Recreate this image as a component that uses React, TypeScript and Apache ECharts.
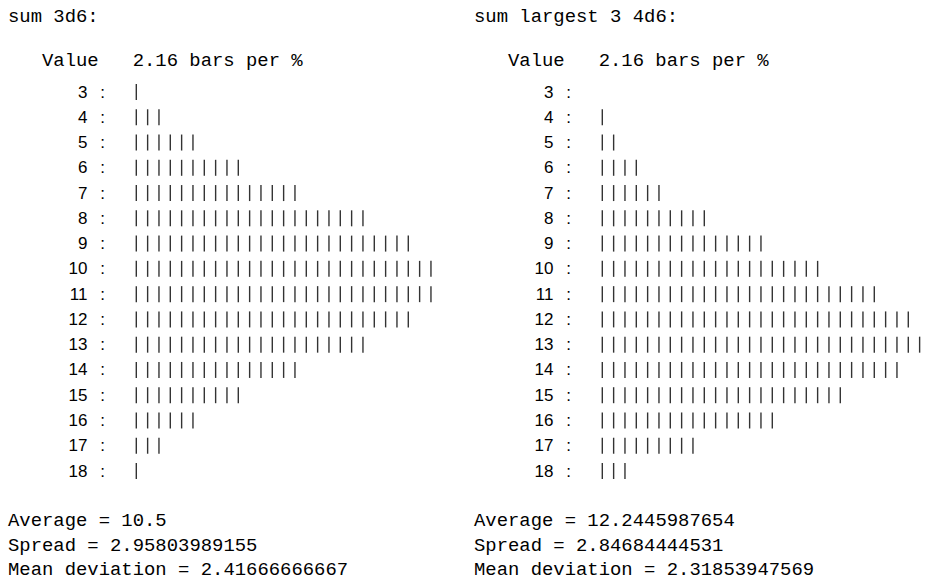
import React, { useEffect, useRef } from "react";
import * as echarts from "echarts";

// ---- data ----
const rowValues = [3, 4, 5, 6, 7, 8, 9, 10, 11, 12, 13, 14, 15, 16, 17, 18];
const sum3d6Bars = [1, 3, 6, 10, 15, 21, 25, 27, 27, 25, 21, 15, 10, 6, 3, 1];
const largest3of4d6Bars = [0, 1, 2, 4, 6, 10, 15, 20, 25, 28, 29, 27, 22, 16, 9, 3];
const panelTitles = ["sum 3d6:", "sum largest 3 4d6:"];
const headerValue = "Value";
const headerScale = "2.16 bars per %";
const statsLeft = ["Average = 10.5", "Spread = 2.95803989155", "Mean deviation = 2.41666666667"];
const statsRight = ["Average = 12.2445987654", "Spread = 2.84684444531", "Mean deviation = 2.31853947569"];

const CH = 11.333; // monospace cell width
const MONO = "'Liberation Mono', 'DejaVu Sans Mono', monospace";
const SANS = "'Liberation Sans', Arial, sans-serif";

function barPoints(counts: number[]) {
  const pts: number[][] = [];
  counts.forEach((c, i) => {
    for (let k = 1; k <= c; k++) pts.push([k, rowValues[i]]);
  });
  return pts;
}

export default function App() {
  const ref = useRef<HTMLDivElement>(null);
  useEffect(() => {
    if (!ref.current) return;
    const chart = echarts.init(ref.current, undefined, { renderer: "svg" });
    const panelOffsets = [0, 466];
    const top = 92;
    const height = 379;
    const gridLeft0 = 136.3 - CH;

    const grids = panelOffsets.map((off) => ({
      left: gridLeft0 + off,
      top,
      height,
      width: CH * 30,
      containLabel: false,
      outerBoundsMode: "none",
    }));

    const xAxes = panelOffsets.map((_, i) => ({
      type: "value",
      gridIndex: i,
      min: 0,
      max: 30,
      show: false,
    }));

    const yAxes: any[] = [];
    panelOffsets.forEach((off, i) => {
      const gl = gridLeft0 + off;
      yAxes.push({
        type: "value",
        gridIndex: i,
        position: "left",
        offset: 0,
        min: 3,
        max: 18,
        interval: 1,
        inverse: true,
        axisLine: { show: false },
        axisTick: { show: false },
        splitLine: { show: false },
        axisLabel: {
          show: true,
          showMinLabel: true,
          showMaxLabel: true,
          margin: gl - (87.5 + off),
          align: "right",
          color: "#000",
          fontFamily: SANS,
          fontSize: 17,
          formatter: (v: number) => String(v),
        },
      });
      yAxes.push({
        type: "value",
        gridIndex: i,
        position: "left",
        offset: 0,
        min: 3,
        max: 18,
        interval: 1,
        inverse: true,
        axisLine: { show: false },
        axisTick: { show: false },
        splitLine: { show: false },
        axisLabel: {
          show: true,
          showMinLabel: true,
          showMaxLabel: true,
          margin: gl - (102.5 + off),
          align: "center",
          color: "#000",
          fontFamily: SANS,
          fontSize: 17,
          formatter: () => ":",
        },
      });
    });

    const series = [sum3d6Bars, largest3of4d6Bars].map((counts, i) => ({
      type: "scatter",
      xAxisIndex: i,
      yAxisIndex: i * 2,
      symbol: "rect",
      symbolSize: [1.4, 16],
      itemStyle: { color: "#000" },
      data: barPoints(counts),
      silent: true,
      clip: false,
    }));

    const textStyle = (fs: number) => ({ fill: "#000", fontFamily: MONO, fontSize: fs, verticalAlign: "middle", align: "left" });
    const graphics: any[] = [];
    panelOffsets.forEach((off, i) => {
      graphics.push({ type: "text", x: 8 + off, y: 17, style: { ...textStyle(18.9), text: panelTitles[i] } });
      graphics.push({ type: "text", x: 8 + 3 * CH + off, y: 61, style: { ...textStyle(18.9), text: headerValue } });
      graphics.push({ type: "text", x: 8 + 11 * CH + off, y: 61, style: { ...textStyle(18.9), text: headerScale } });
      const stats = i === 0 ? statsLeft : statsRight;
      const ys = [521, 545.5, 569.5];
      stats.forEach((s, j) => {
        graphics.push({ type: "text", x: 8 + off, y: ys[j], style: { ...textStyle(18.9), text: s } });
      });
    });

    chart.setOption({
      animation: false,
      backgroundColor: "#fff",
      grid: grids,
      xAxis: xAxes,
      yAxis: yAxes,
      series,
      graphic: graphics,
    } as any);
    return () => chart.dispose();
  }, []);
  return <div ref={ref} style={{ position: "fixed", left: 0, top: 0, width: 928, height: 580 }} />;
}
